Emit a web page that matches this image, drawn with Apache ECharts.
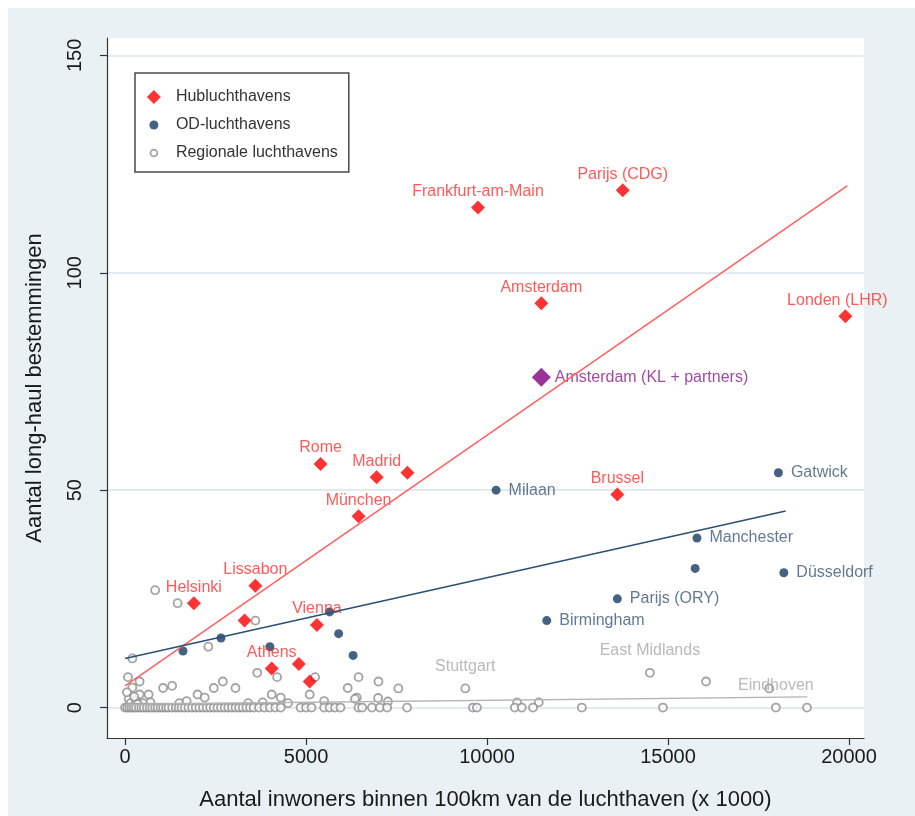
<!DOCTYPE html>
<html><head><meta charset="utf-8">
<script src="https://cdn.jsdelivr.net/npm/echarts@6/dist/echarts.min.js"></script>
<style>
html,body{margin:0;padding:0;background:#fff}
#bg{position:absolute;left:8px;top:8px;width:907px;height:808px;background:#e9f1f4}
#c{position:absolute;left:0;top:0;width:915px;height:816px}
</style>
</head><body><div id="bg"></div><div id="c"></div><script>
// ---- data ----
const xTicks = [0, 5000, 10000, 15000, 20000];
const yTicks = [0, 50, 100, 150];

const hubNames = ['Frankfurt-am-Main','Parijs (CDG)','Amsterdam','Londen (LHR)','Rome','Madrid','','München','Brussel','Lissabon','Helsinki','','Vienna','Athens','',''];
const hubX = [9750, 13750, 11500, 19900, 5400, 6950, 7800, 6450, 13600, 3600, 1900, 3300, 5300, 4050, 4800, 5100];
const hubY = [115, 119, 93, 90, 56, 53, 54, 44, 49, 28, 24, 20, 19, 9, 10, 6];

const klName = ['Amsterdam (KL + partners)'];
const klX = [11500];
const klY = [76];

const odNames = ['Milaan','Gatwick','Manchester','','Düsseldorf','Parijs (ORY)','Birmingham','','','','','',''];
const odX = [10250, 18050, 15800, 15750, 18200, 13600, 11650, 5650, 5900, 6300, 4000, 2650, 1600];
const odY = [50, 54, 39, 32, 31, 25, 20, 22, 17, 12, 14, 16, 13];

// regional airports with a non-zero value
const regX = [830, 1450, 3600, 2300, 200, 80, 400, 200, 1050, 1300, 2700, 2450, 3050, 3650, 4200, 4050, 4300, 5250, 5100, 6150, 6450, 6400, 2000, 2200, 650, 400, 7000, 7550, 6350, 6990, 7260, 9400, 10830, 11430, 14500, 16050, 17800, 100, 150, 300, 50, 250, 500, 350, 700, 1500, 1700, 3400, 3800, 4500, 5500];
const regY = [27, 24, 20, 14, 11.3, 7, 6, 4.6, 4.5, 5, 6, 4.5, 4.5, 8, 7, 3, 2.3, 7, 3, 4.5, 7, 2.3, 3, 2.3, 3, 3, 6, 4.4, 2, 2.2, 1.4, 4.4, 1.2, 1.2, 8, 6, 4.4, 2, 1, 1.5, 3.5, 2.5, 1, 0.8, 1.2, 1, 1.5, 1, 1.2, 1, 1.5];
const regNames = ['','','','','','','','','','','','','','','','','','','','','','','','','','','','','','','','Stuttgart','','','East Midlands','','','','','','','','','','','','','','','',''];
// regional airports with zero long-haul destinations
const regZeroX = [0, 60, 120, 180, 240, 300, 380, 450, 520, 600, 680, 750, 830, 900, 980, 1050, 1130, 1200, 1300, 1400, 1480, 1560, 1650, 1750, 1850, 1950, 2050, 2150, 2250, 2350, 2450, 2550, 2650, 2750, 2850, 2950, 3050, 3150, 3250, 3350, 3450, 3550, 3700, 3850, 4000, 4150, 4300, 4850, 5000, 5150, 5500, 5650, 5800, 5950, 6450, 6550, 6820, 7040, 7240, 7790, 9610, 9720, 10770, 10960, 11270, 12620, 14860, 17980, 18840];
const regZeroNames = {17980: 'Eindhoven'};

// fitted lines (endpoints)
const fitHubX = [0, 19950], fitHubY = [5, 120];
const fitOdX = [0, 18250], fitOdY = [11.3, 45.2];
const fitRegX = [0, 18850], fitRegY = [0.75, 2.45];

// ---- build ----
const FONT = 'Liberation Sans, Arial, sans-serif';
const zip = (xs, ys, ns) => xs.map((x, i) => ({ value: [x, ys[i]], name: ns ? (ns[i] || '') : '' }));
const hubData = zip(hubX, hubY, hubNames).map(d => d.name === 'Londen (LHR)' ? Object.assign(d, { label: { offset: [-8, 0] } }) : d);
const regData = zip(regX, regY, regNames).concat(regZeroX.map(x => ({ value: [x, 0], name: regZeroNames[x] || '' })));

const chart = echarts.init(document.getElementById('c'), null, { renderer: 'canvas' });
chart.setOption({
  backgroundColor: 'transparent',
  animation: false,
  textStyle: { fontFamily: FONT },
  grid: { left: 107, right: 51, top: 38, bottom: 78, show: true, backgroundColor: '#ffffff', borderWidth: 0, containLabel: false, outerBoundsMode: 'none' },
  legend: {
    orient: 'vertical', left: 135, top: 73,
    padding: [16, 11, 11, 11], itemGap: 12, itemWidth: 14, itemHeight: 14,
    backgroundColor: '#ffffff', borderColor: '#4a4a4a', borderWidth: 1.5,
    textStyle: { fontFamily: FONT, fontSize: 16, color: '#333', padding: [0, 0, 0, 10] },
    data: [
      { name: 'Hubluchthavens', icon: 'diamond' },
      { name: 'OD-luchthavens', icon: 'path://M0,0M14,14M2.5,7a4.5,4.5 0 1,0 9,0a4.5,4.5 0 1,0 -9,0Z' },
      { name: 'Regionale luchthavens', icon: 'path://M0,0M14,14M3.6,7a3.4,3.4 0 1,0 6.8,0a3.4,3.4 0 1,0 -6.8,0Z', itemStyle: { color: '#ffffff', borderColor: '#8c8c8c', borderWidth: 1.8 } }
    ]
  },
  xAxis: {
    type: 'value', min: -500, max: 20415,
    name: 'Aantal inwoners binnen 100km van de luchthaven (x 1000)',
    nameLocation: 'middle', nameGap: 51,
    nameTextStyle: { fontFamily: FONT, fontSize: 22, color: '#1a1a1a' },
    axisLine: { show: true, onZero: false, lineStyle: { color: '#333', width: 1.2 } },
    axisTick: { show: true, length: 7, customValues: xTicks, lineStyle: { color: '#333', width: 1.2 } },
    axisLabel: { customValues: xTicks, margin: 9, fontSize: 20, color: '#1a1a1a', fontFamily: FONT, formatter: v => String(v) },
    splitLine: { show: false }
  },
  yAxis: {
    type: 'value', min: -7, max: 154,
    name: 'Aantal long-haul bestemmingen',
    nameLocation: 'middle', nameGap: 61,
    nameTextStyle: { fontFamily: FONT, fontSize: 22, color: '#1a1a1a' },
    axisLine: { show: true, onZero: false, lineStyle: { color: '#333', width: 1.2 } },
    axisTick: { show: true, length: 7, customValues: yTicks, lineStyle: { color: '#333', width: 1.2 } },
    axisLabel: { customValues: yTicks, margin: 22, rotate: 90, fontSize: 20, color: '#1a1a1a', fontFamily: FONT, formatter: v => String(v) },
    splitLine: { show: false }
  },
  series: [
    {
      name: 'grid', type: 'scatter', z: 1, symbolSize: 0, data: [], silent: true,
      markLine: {
        z: 0, silent: true, symbol: 'none', label: { show: false },
        lineStyle: { color: '#e2ecf0', width: 2, type: 'solid' },
        data: yTicks.map(v => ({ yAxis: v }))
      }
    },
    {
      name: 'Regionale luchthavens', type: 'scatter', z: 2, symbol: 'circle', symbolSize: 8,
      itemStyle: { color: '#ffffff', borderColor: '#8c8c8c', borderWidth: 1.8 },
      label: { show: true, position: 'top', distance: 9, formatter: '{b}', color: '#a8a8a8', fontSize: 16, fontFamily: FONT },
      data: regData
    },
    {
      name: 'OD-luchthavens', type: 'scatter', z: 3, symbol: 'circle', symbolSize: 9,
      itemStyle: { color: '#163c62' },
      label: { show: true, position: 'right', distance: 8, formatter: '{b}', color: '#3b5878', fontSize: 16, fontFamily: FONT },
      data: zip(odX, odY, odNames)
    },
    {
      name: 'Hubluchthavens', type: 'scatter', z: 4, symbol: 'diamond', symbolSize: 14,
      itemStyle: { color: '#ff0000' },
      label: { show: true, position: 'top', distance: 1, formatter: '{b}', color: '#ff3030', fontSize: 16, fontFamily: FONT },
      data: hubData
    },
    {
      name: 'KL', type: 'scatter', z: 5, symbol: 'diamond', symbolSize: 19,
      itemStyle: { color: '#800080' },
      label: { show: true, position: 'right', distance: 4, formatter: '{b}', color: '#8a1a8a', fontSize: 16, fontFamily: FONT },
      data: zip(klX, klY, klName)
    },
    { name: 'fitHub', type: 'line', z: 6, symbol: 'none', silent: true, lineStyle: { color: '#ff6262', width: 1.6 }, data: fitHubX.map((x, i) => [x, fitHubY[i]]) },
    { name: 'fitOD', type: 'line', z: 6, symbol: 'none', silent: true, lineStyle: { color: '#2b5074', width: 1.6 }, data: fitOdX.map((x, i) => [x, fitOdY[i]]) },
    { name: 'fitReg', type: 'line', z: 6, symbol: 'none', silent: true, lineStyle: { color: '#b3b3b3', width: 1.4 }, data: fitRegX.map((x, i) => [x, fitRegY[i]]) }
  ]
});
</script></body></html>
